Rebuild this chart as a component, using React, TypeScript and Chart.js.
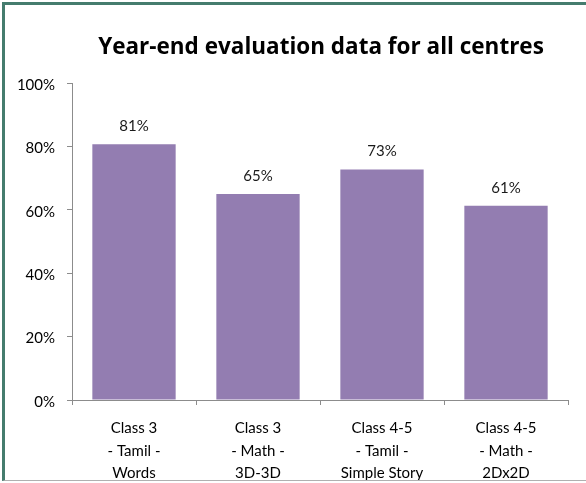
import React, { useEffect, useRef } from "react";
import { Chart, registerables } from "chart.js";

Chart.register(...registerables);

const categories: string[][] = [
  ["Class 3", "- Tamil -", "Words"],
  ["Class 3", "- Math -", "3D-3D"],
  ["Class 4-5", "- Tamil -", "Simple Story"],
  ["Class 4-5", "- Math -", "2Dx2D"],
];
const values: number[] = [80.7, 65, 72.7, 61.3];
const yTicks: number[] = [0, 20, 40, 60, 80, 100];
const titleText = "Year-end evaluation data for all centres";

const FONT = "Lato, 'Open Sans', sans-serif";
const TITLE_FONT = "'Open Sans', Lato, sans-serif";

export default function App() {
  const ref = useRef<HTMLCanvasElement | null>(null);

  useEffect(() => {
    if (!ref.current) return;
    const titlePlugin = {
      id: "customTitle",
      afterDraw(chart: any) {
        const { ctx, chartArea } = chart;
        ctx.save();
        ctx.font = `bold 22.5px ${TITLE_FONT}`;
        ctx.fillStyle = "#000000";
        ctx.textAlign = "center";
        ctx.textBaseline = "middle";
        ctx.fillText(titleText, (chartArea.left + chartArea.right) / 2 + 1, 48);
        ctx.restore();
      },
    };
    const labelPlugin = {
      id: "barLabels",
      afterDatasetsDraw(chart: any) {
        const { ctx } = chart;
        const meta = chart.getDatasetMeta(0);
        ctx.save();
        ctx.font = `15px ${FONT}`;
        ctx.fillStyle = "#1a1a1a";
        ctx.textAlign = "center";
        ctx.textBaseline = "middle";
        meta.data.forEach((bar: any, i: number) => {
          ctx.fillText(`${Math.round(values[i])}%`, bar.x, bar.y - 18);
        });
        ctx.restore();
      },
    };
    const chart = new Chart(ref.current, {
      type: "bar",
      data: {
        labels: categories,
        datasets: [
          {
            data: values,
            backgroundColor: "#937db1",
            borderWidth: 0,
            barPercentage: 0.672,
            categoryPercentage: 1,
          },
        ],
      },
      options: {
        animation: false,
        responsive: false,
        maintainAspectRatio: false,
        layout: { padding: { left: 0, right: 18, top: 83, bottom: 0 } },
        plugins: {
          legend: { display: false },
          title: { display: false },
          tooltip: { enabled: false },
        },
        scales: {
          x: {
            afterFit(scale: any) {
              scale.height = 83;
            },
            grid: {
              display: true,
              drawOnChartArea: false,
              drawTicks: true,
              tickLength: 5,
              color: "#8c8c8c",
            },
            border: { display: true, color: "#8c8c8c", width: 1 },
            ticks: {
              color: "#000000",
              font: { family: FONT, size: 15, lineHeight: 1.5 },
              padding: 12,
              maxRotation: 0,
              autoSkip: false,
            },
          },
          y: {
            min: 0,
            max: 100,
            afterFit(scale: any) {
              scale.width = 72;
            },
            afterBuildTicks(scale: any) {
              scale.ticks = yTicks.map((v) => ({ value: v }));
            },
            grid: {
              display: true,
              drawOnChartArea: false,
              drawTicks: true,
              tickLength: 5,
              color: "#8c8c8c",
            },
            border: { display: true, color: "#8c8c8c", width: 1 },
            ticks: {
              color: "#000000",
              font: { family: FONT, size: 15 },
              padding: 12,
              labelOffset: 2,
              callback: (v: any) => `${v}%`,
            },
          },
        },
      },
      plugins: [titlePlugin, labelPlugin],
    });
    return () => chart.destroy();
  }, []);

  return (
    <div
      style={{
        position: "absolute",
        left: 0,
        top: 0,
        width: 586,
        height: 483,
        background: "#ffffff",
        overflow: "hidden",
      }}
    >
      <canvas
        ref={ref}
        width={586}
        height={483}
        style={{ position: "absolute", left: 0, top: 0, width: 586, height: 483 }}
      />
      <div
        style={{
          position: "absolute",
          left: 2,
          top: 2,
          width: 600,
          height: 479,
          boxSizing: "border-box",
          borderTop: "3px solid #457c6e",
          borderLeft: "3px solid #457c6e",
          borderBottom: "1px solid #b0b0b0",
          pointerEvents: "none",
        }}
      />
    </div>
  );
}
